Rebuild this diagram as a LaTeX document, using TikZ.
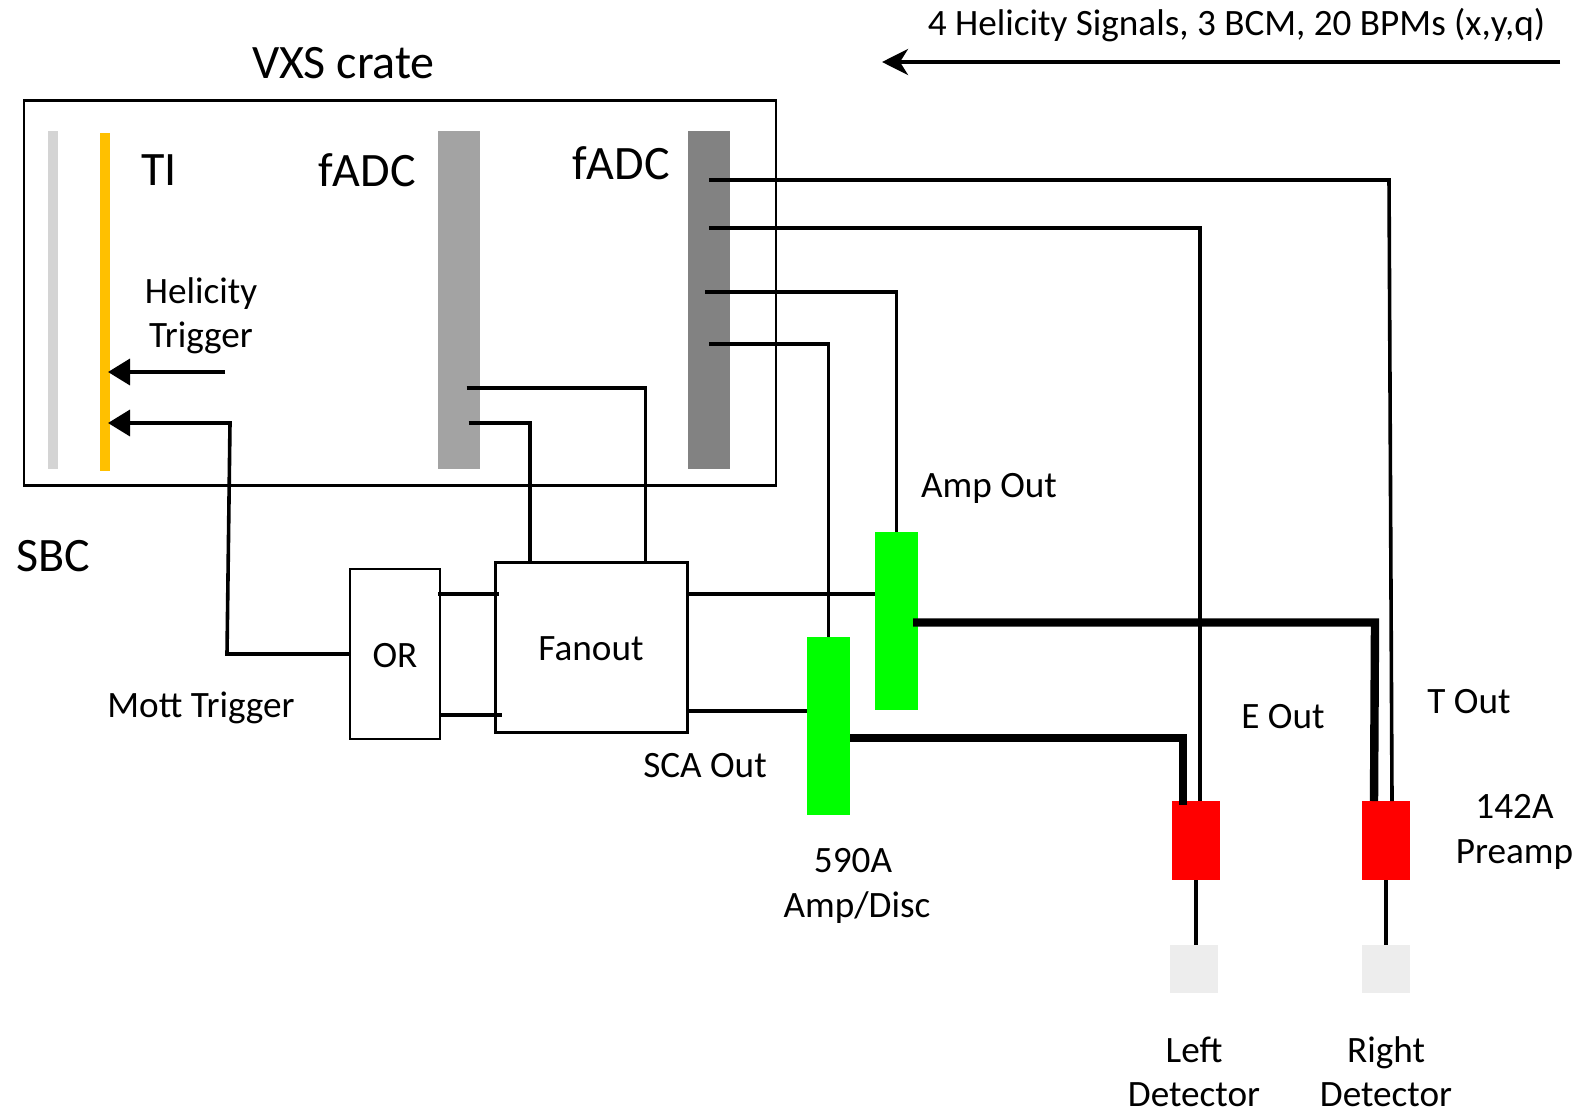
\documentclass[tikz,border=0pt]{standalone}
\usepackage{fontspec}
\setmainfont{Carlito}
\usetikzlibrary{arrows.meta}
\definecolor{tiyellow}{RGB}{255,192,0}
\definecolor{ampgreen}{RGB}{0,255,0}

\begin{document}
\begin{tikzpicture}[x=0.5pt,y=-0.5pt]
\tikzstyle{mybar} = [rectangle, inner sep = 0 pt, minimum width = 21 pt, minimum height = 168.75 pt]
\tikzstyle{myamp} = [rectangle, inner sep = 0 pt, fill = ampgreen, minimum width = 21.5 pt, minimum height = 89 pt]
\tikzstyle{mypre} = [rectangle, inner sep = 0 pt, fill = red, minimum width = 24 pt, minimum height = 39.5 pt]
\tikzstyle{mydet} = [rectangle, inner sep = 0 pt, fill = black!7, minimum width = 24 pt, minimum height = 24 pt]
\tikzstyle{mybox} = [rectangle, draw, line width = 1.2 pt, inner sep = 0 pt]
\tikzstyle{mybig} = [font = \fontsize{24}{28}\selectfont, inner sep = 0 pt]
\tikzstyle{mytxt} = [font = \fontsize{18.6}{22.2}\selectfont, align = center, inner sep = 0 pt]
\tikzset{wire/.style={line width = 1.8 pt}, thickwire/.style={line width = 4.2 pt},
  arr/.style={line width = 1.8 pt, -{Triangle[length=11pt, width=13pt]}},
  beamarr/.style={line width = 1.9 pt, -{Stealth[length=13pt, width=13pt, inset=4pt]}}}
\useasboundingbox (0,0) rectangle (1583,1108);

% crate and its boards
\node [mybox, minimum width = 376 pt, minimum height = 192.5 pt] (crate) at (400,293) {};
\node [mybar, fill = black!17, minimum width = 5.25 pt] (sbc) at (53,300) {};
\node [mybar, fill = tiyellow, minimum width = 5 pt] (ti) at (105,302) {};
\node [mybar, fill = black!36] (fadcl) at (459,300) {};
\node [mybar, fill = black!49] (fadcr) at (709,300) {};

% electronics
\node [mybox, minimum width = 96 pt, minimum height = 85 pt] (fanout) at (591.5,647.5) {};
\node [mybox, minimum width = 45 pt, minimum height = 84.75 pt] (orbox) at (395,654) {};
\node [myamp] (ampa) at (896.5,621) {};
\node [myamp] (ampb) at (828.5,726) {};
\node [mypre] (prel) at (1196,840.5) {};
\node [mypre] (prer) at (1386,840.5) {};
\node [mydet] (detl) at (1194,969) {};
\node [mydet] (detr) at (1386,969) {};

% free ends of the wires
\coordinate (beamin) at (1560,62);
\coordinate (beamout) at (882,62);
\coordinate (helin) at (225,372);
\coordinate (heltip) at (108,372);
\coordinate (motta) at (227,654);
\coordinate (mottb) at (230,423);
\coordinate (motttip) at (108,423);
\coordinate (fra) at (709,180);
\coordinate (frb) at (709,228);
\coordinate (frc) at (705,292);
\coordinate (frd) at (709,344);
\coordinate (fla) at (466.5,388);
\coordinate (flb) at (468.5,423);
\coordinate (fantopa) at (645.5,562);
\coordinate (fantopb) at (530,562);
\coordinate (orina) at (438,594);
\coordinate (orinb) at (440,715);
\coordinate (faninb) at (499,594);
\coordinate (faninc) at (502,715);
\coordinate (fanouta) at (688.5,594);
\coordinate (fanoutb) at (688.5,711);
\coordinate (ampina) at (875,594);
\coordinate (ampinb) at (807,711);
\coordinate (ampouta) at (913,622.5);
\coordinate (ampoutb) at (850,738);
\coordinate (prerin) at (1374,801);
\coordinate (prerout) at (1392,801);
\coordinate (prelin) at (1183,805);
\coordinate (prelout) at (1200,801);

% signals
\draw [beamarr] (beamin) -- (beamout);
\draw [arr] (helin) -- (heltip);
\draw [arr] (orbox.west) -- (motta) -- (mottb) -- (motttip);
\draw [wire] (fra) -- (1389,180) -- (prerout);
\draw [wire] (frb) -- (1200,228) -- (prelout);
\draw [wire] (frc) -| (ampa.north);
\draw [wire] (frd) -| (ampb.north);
\draw [wire] (fla) -| (fantopa);
\draw [wire] (flb) -| (fantopb);
\draw [wire] (orina) -- (faninb);
\draw [wire] (orinb) -- (faninc);
\draw [wire] (fanouta) -- (ampina);
\draw [wire] (fanoutb) -- (ampinb);
\draw [thickwire] (ampouta) -- (1375,622.5) -- (prerin);
\draw [thickwire] (ampoutb) -- (1183,738) -- (prelin);
\draw [wire] (prel.south) -- (prel.south |- detl.north);
\draw [wire] (prer.south) -- (detr.north);

% labels
\node [mybig] (cratelab) at (343.5,63) {VXS crate};
\node [mybig] (tilab) at (159,170) {TI};
\node [mybig] (fadcllab) at (367,170) {fADC};
\node [mybig] (fadcrlab) at (621,163) {fADC};
\node [mybig] (sbclab) at (53,556) {SBC};
\node [mytxt] (beamlab) at (1236.5,25) {4 Helicity Signals, 3 BCM, 20 BPMs (x,y,q)};
\node [mytxt] (hellab) at (201,316) {Helicity\\Trigger};
\node [mytxt] (amplab) at (989,488) {Amp Out};
\node [mytxt] (mottlab) at (201,708) {Mott Trigger};
\node [mytxt] (orlab) at (395,655.5) {OR};
\node [mytxt] (fanlab) at (591,649) {Fanout};
\node [mytxt] (scalab) at (705,766) {SCA Out};
\node [mytxt] (disclab) at (853,861) {590A};
\node [mytxt] (amdlab) at (857,908) {Amp/Disc};
\node [mytxt] (elab) at (1283,717) {E Out};
\node [mytxt] (tlab) at (1469,702) {T Out};
\node [mytxt] (prelab) at (1514.5,832) {142A\\Preamp};
\node [mytxt] (detllab) at (1194,1072) {Left\\Detector};
\node [mytxt] (detrlab) at (1386,1072) {Right\\Detector};
\end{tikzpicture}
\end{document}
